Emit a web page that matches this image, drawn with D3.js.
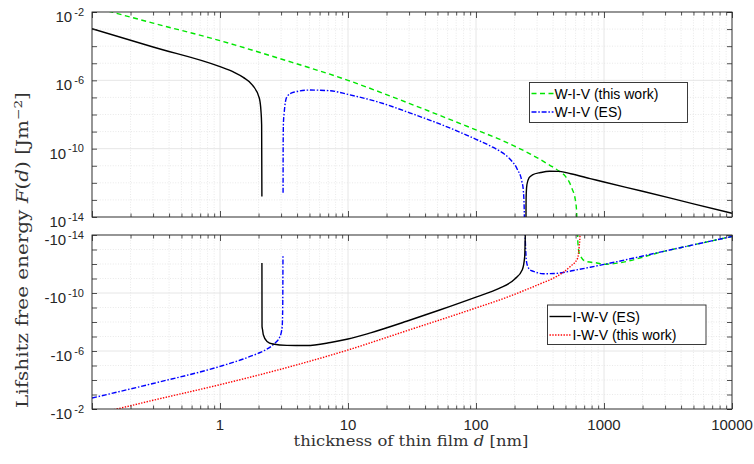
<!DOCTYPE html>
<html><head><meta charset="utf-8">
<script src="https://cdn.jsdelivr.net/npm/d3@7"></script>
<style>body{margin:0;background:#fff}svg{display:block}</style>
</head><body><svg id="c" width="754" height="464"></svg>
<script>
// ---------------- data (thickness d in nm, free energy F in J/m^2) ----------------
// I-W-V (ES) – black solid
const iwvEsD = [0.1,0.3,1,1.28,1.52,1.8,2.03,2.09,2.115,2.1245,
  2.126,2.13,2.15,2.18,2.33,2.59,3.33,4.75,7.3,10,15,28.7,52,100,150,200,230,240,244,
  245.5,246,247,250,260,276,320,375,450,550,780,1000,2000,5000,10000];
const iwvEsF = [1.05e-3,8.9e-5,6.3e-6,3e-6,1.48e-6,5.1e-7,8.9e-8,1.58e-8,2.5e-9,1.6e-13,
  -8.5e-13,-2e-8,-3.4e-8,-7.6e-8,-2.2e-7,-3.3e-7,-4.1e-7,-4.2e-7,-2.6e-7,-1.5e-7,-5.6e-8,-8.9e-9,-1.48e-9,-1.9e-10,-5e-11,-1.12e-11,-2.5e-12,-3.2e-13,-1e-15,
  1e-15,5e-14,2.5e-13,8e-13,2e-12,2.9e-12,4e-12,4.8e-12,4.7e-12,3.4e-12,1.78e-12,1.12e-12,3.2e-13,5.9e-14,1.66e-14];

// W-I-V (ES) – blue dash-dot
const wivEsD = [0.1,0.3,1,1.52,2.0,2.17,2.61,2.95,3.06,3.09,3.105,
  3.11,3.115,3.13,3.17,3.33,3.75,5.07,7.3,10,17.8,30.3,52,100,130,154,184,210,228,234,238,239.5,
  240,246,251,264.5,281,335,427,577,781,1000,3165,10000];
const wivEsF = [-1.74e-3,-1.74e-4,-1.15e-5,-3.55e-6,-1.41e-6,-1.02e-6,-3.55e-7,-9.5e-8,-2.1e-8,-1e-9,-2.5e-13,
  2.6e-13,1.6e-10,3.2e-9,1.17e-8,1.1e-7,2e-7,2.7e-7,2.45e-7,1.5e-7,5e-8,1.26e-8,2.8e-9,3.55e-10,1.41e-10,7.1e-11,2.5e-11,6.3e-12,1.26e-12,4e-13,3.2e-14,1e-15,
  -1e-15,-3e-13,-1.12e-12,-2.5e-12,-3.2e-12,-4.7e-12,-4.4e-12,-2.8e-12,-1.66e-12,-1.07e-12,-1.15e-13,-1.26e-14];

// W-I-V (this work) – green dashed
const wivTwD = [0.1,0.3,1,3,10,30,100,154,200,264,375,452,500,560,600,612,616,
  622,625,640,720,880,1000,3165,10000];
const wivTwF = [2.04e-2,2.24e-3,2.1e-4,1.78e-5,1e-6,4.5e-8,1.26e-9,3.45e-10,1.41e-10,5e-11,1.1e-11,4.5e-12,2.4e-12,5e-13,8e-14,1.6e-14,1e-15,
  -6e-15,-3.2e-14,-1.74e-13,-6.6e-13,-8.5e-13,-1.05e-12,-1.15e-13,-1.26e-14];

// I-W-V (this work) – red dotted
const iwvTwD = [0.1,0.156,0.3,1,3,10,30,100,184,234,315,427,545,623,640,649,652];
const iwvTwF = [-2.4e-2,-1e-2,-2.5e-3,-2.1e-4,-1.78e-5,-8.5e-7,-3.55e-8,-1.07e-9,-1.66e-10,-7.1e-11,-2.4e-11,-7.2e-12,-1.48e-12,-3.9e-13,-6.3e-14,-1.26e-14,-1e-15];

const xTickLabels = [1,10,100,1000,10000];
const yLabelExps = [-2,-6,-10,-14];
const legendTop = ["W-I-V (this work)","W-I-V (ES)"];
const legendBot = ["I-W-V (ES)","I-W-V (this work)"];

// ---------------- layout ----------------
const L=92,R=732,T1=12,B1=217,T2=235,B2=409;
const AX="#262626";
const svg=d3.select("#c");
const x=d3.scaleLog().domain([0.1,10000]).range([L,R]);
const yTop=d3.scaleLog().domain([1e-14,1e-2]).range([B1,T1]);
const yBot=d3.scaleLog().domain([1e-14,1e-2]).range([T2,B2]); // magnitude of negative values

const decadesX=d3.range(-1,5).map(e=>Math.pow(10,e));
const minorX=[];decadesX.forEach(b=>{if(b<10000)for(let k=2;k<=9;k++)minorX.push(b*k);});
const decadesY=d3.range(-14,-1).map(e=>Math.pow(10,e));

const styles={
  black:{stroke:"#000",dash:null,w:1.4},
  blue:{stroke:"#0000ff",dash:"5,1.8,1.5,1.8",w:1.4},
  green:{stroke:"#00e600",dash:"5,3.5",w:1.4},
  red:{stroke:"#ff0000",dash:"1.4,1.4",w:1.4}
};

function panel(y,T,B,id){
  const g=svg.append("g");
  g.append("clipPath").attr("id",id).append("rect").attr("x",L).attr("y",T).attr("width",R-L).attr("height",B-T);
  const gm=g.append("g").attr("stroke","#dadada").attr("stroke-width",0.6).attr("stroke-dasharray","1,1.6");
  gm.selectAll("line.mx").data(minorX).join("line").attr("x1",d=>x(d)).attr("x2",d=>x(d)).attr("y1",T).attr("y2",B);
  gm.selectAll("line.my").data(decadesY.filter(v=>!yLabelExps.includes(Math.round(Math.log10(v))))).join("line")
    .attr("x1",L).attr("x2",R).attr("y1",d=>y(d)).attr("y2",d=>y(d));
  const gM=g.append("g").attr("stroke","#e3e3e3").attr("stroke-width",0.9);
  gM.selectAll("line.Mx").data(decadesX).join("line").attr("x1",d=>x(d)).attr("x2",d=>x(d)).attr("y1",T).attr("y2",B);
  gM.selectAll("line.My").data(yLabelExps.map(e=>Math.pow(10,e))).join("line").attr("x1",L).attr("x2",R).attr("y1",d=>y(d)).attr("y2",d=>y(d));
  return g;
}
const gTop=panel(yTop,T1,B1,"clipTop");
const gBot=panel(yBot,T2,B2,"clipBot");

function runs(D,F,sign){
  const out=[];let cur=[];
  D.forEach((d,i)=>{const f=F[i];
    if(Math.sign(f)===sign){cur.push({d,v:Math.abs(f)});}
    else{if(cur.length)out.push(cur);cur=[];}
  });
  if(cur.length)out.push(cur);return out;
}
const series=[
  {D:wivTwD,F:wivTwF,s:styles.green},
  {D:wivEsD,F:wivEsF,s:styles.blue},
  {D:iwvTwD,F:iwvTwF,s:styles.red},
  {D:iwvEsD,F:iwvEsF,s:styles.black}
];
function drawCurves(g,y,clip,sign){
  const line=d3.line().x(p=>x(p.d)).y(p=>y(p.v)).curve(d3.curveMonotoneX);
  const cg=g.append("g").attr("clip-path",`url(#${clip})`);
  series.forEach(S=>{
    runs(S.D,S.F,sign).forEach(r=>{
      cg.append("path").attr("d",line(r)).attr("fill","none").attr("stroke",S.s.stroke)
        .attr("stroke-width",S.s.w).attr("stroke-dasharray",S.s.dash).attr("stroke-linejoin","round");
    });
  });
}
drawCurves(gTop,yTop,"clipTop",1);
drawCurves(gBot,yBot,"clipBot",-1);

function axes(y,T,B){
  const g=svg.append("g");
  const add=(axis,tx,ty)=>{const a=g.append("g").attr("transform",`translate(${tx},${ty})`).call(axis);
    a.select(".domain").remove();a.selectAll("line").attr("stroke",AX).attr("stroke-width",0.8);a.selectAll("text").remove();};
  add(d3.axisBottom(x).tickValues(decadesX).tickSize(-6),0,B);
  add(d3.axisBottom(x).tickValues(minorX).tickSize(-3.5),0,B);
  add(d3.axisTop(x).tickValues(decadesX).tickSize(-6),0,T);
  add(d3.axisTop(x).tickValues(minorX).tickSize(-3.5),0,T);
  add(d3.axisLeft(y).tickValues(decadesY.concat([1e-2])).tickSize(-5),L,0);
  add(d3.axisRight(y).tickValues(decadesY.concat([1e-2])).tickSize(-5),R,0);
  g.append("rect").attr("x",L).attr("y",T).attr("width",R-L).attr("height",B-T).attr("fill","none").attr("stroke",AX).attr("stroke-width",0.9);
}
axes(yTop,T1,B1);
axes(yBot,T2,B2);

function yLabels(y,neg){
  yLabelExps.forEach(e=>{
    const v=Math.pow(10,e);
    const t=svg.append("text").attr("x",84).attr("y",y(v)+10).attr("text-anchor","end")
      .attr("font-family","Liberation Sans, Arial, sans-serif").attr("font-size",15).attr("fill",AX);
    t.append("tspan").text((neg?"-":"")+"10");
    t.append("tspan").attr("dy",-6.5).attr("dx",2).attr("font-size",11).text(String(e));
  });
}
yLabels(yTop,false);
yLabels(yBot,true);

svg.append("g").selectAll("text").data(xTickLabels).join("text")
  .attr("x",d=>x(d)).attr("y",430).attr("text-anchor","middle")
  .attr("font-family","Liberation Sans, Arial, sans-serif").attr("font-size",15).attr("fill",AX)
  .text(d=>String(d));

function fitX(sel,target){const w=sel.node().getComputedTextLength();return target/w;}
const SERIF="DejaVu Serif, Liberation Serif, serif";
const xl=svg.append("text").attr("text-anchor","middle")
  .attr("font-family",SERIF).attr("font-size",14).attr("fill","#333");
xl.append("tspan").text("thickness of thin film ");
xl.append("tspan").attr("font-style","italic").text("d");
xl.append("tspan").text(" [nm]");
{const k=fitX(xl,235);xl.attr("transform",`translate(411,446) scale(${k},1)`);}

const yl=svg.append("text").attr("text-anchor","middle")
  .attr("font-family",SERIF).attr("font-size",16).attr("fill","#333");
yl.append("tspan").text("Lifshitz free energy ");
yl.append("tspan").attr("font-style","italic").text("F");
yl.append("tspan").text("(");
yl.append("tspan").attr("font-style","italic").text("d");
yl.append("tspan").text(") [Jm");
yl.append("tspan").attr("dy",-6).attr("font-size",11).text("−2");
yl.append("tspan").attr("dy",6).text("]");
{const k=fitX(yl,316);yl.attr("transform",`translate(28,250) rotate(-90) scale(${k},1)`);}

function legend(x0,y0,w,h,items,sty,rowY){
  const g=svg.append("g");
  g.append("rect").attr("x",x0).attr("y",y0).attr("width",w).attr("height",h).attr("fill","#fff").attr("stroke",AX).attr("stroke-width",0.9);
  items.forEach((txt,i)=>{
    const yy=rowY[i];
    g.append("line").attr("x1",x0+2).attr("x2",x0+24).attr("y1",yy).attr("y2",yy)
      .attr("stroke",sty[i].stroke).attr("stroke-width",sty[i].w).attr("stroke-dasharray",sty[i].dash);
    g.append("text").attr("x",x0+25).attr("y",yy+5).attr("font-family","Liberation Sans, Arial, sans-serif")
      .attr("font-size",14).attr("fill","#000").text(txt);
  });
}
legend(529.5,82.5,158,40,legendTop,[styles.green,styles.blue],[93.5,112]);
legend(547.5,305,158.5,39.5,legendBot,[styles.black,styles.red],[316.5,335]);
</script></body></html>
